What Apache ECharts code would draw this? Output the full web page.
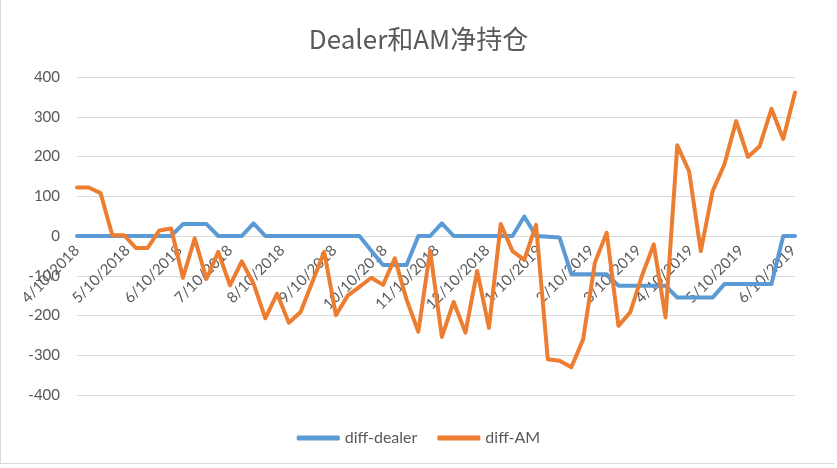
<!DOCTYPE html>
<html>
<head>
<meta charset="utf-8">
<script src="https://cdn.jsdelivr.net/npm/echarts@6/dist/echarts.min.js"></script>
<style>
html,body{margin:0;padding:0;background:#fff;}
#frame{position:absolute;left:0;top:0;width:833px;height:463px;border:1px solid #d9d9d9;border-top:none;border-right:none;}
#chart{position:absolute;left:0;top:0;width:837px;height:468px;}
</style>
</head>
<body>
<div id="frame"></div>
<div id="chart"></div>
<script>
const dates = [
 '2018-04-10','2018-04-17','2018-04-24','2018-05-01','2018-05-08','2018-05-15','2018-05-22','2018-05-29',
 '2018-06-05','2018-06-12','2018-06-19','2018-06-26','2018-07-03','2018-07-10','2018-07-17','2018-07-24',
 '2018-07-31','2018-08-07','2018-08-14','2018-08-21','2018-08-28','2018-09-04','2018-09-11','2018-09-18',
 '2018-09-25','2018-10-02','2018-10-09','2018-10-16','2018-10-23','2018-10-30','2018-11-06','2018-11-13',
 '2018-11-20','2018-11-27','2018-12-04','2018-12-11','2018-12-18','2018-12-25','2019-01-01','2019-01-08',
 '2019-01-15','2019-01-22','2019-01-29','2019-02-05','2019-02-12','2019-02-19','2019-02-26','2019-03-05',
 '2019-03-12','2019-03-19','2019-03-26','2019-04-02','2019-04-09','2019-04-16','2019-04-23','2019-04-30',
 '2019-05-07','2019-05-14','2019-05-21','2019-05-28','2019-06-04','2019-06-11'
];
const diffDealer = [
 0,0,0,0,0,0,0,0,
 0,30,30,30,0,0,0,32,
 0,0,0,0,0,0,0,0,
 0,-37,-73,-73,-73,0,0,32,
 0,0,0,0,0,0,49,0,
 -2,-4,-96,-96,-96,-96,-125,-125,
 -125,-125,-125,-155,-155,-155,-155,-121,
 -121,-121,-121,-121,0,0
];
const diffAM = [
 122,122,108,2,2,-30,-30,14,
 19,-105,-6,-108,-40,-124,-64,-120,
 -207,-145,-218,-191,-115,-40,-199,-150,
 -128,-105,-123,-56,-160,-241,-37,-254,
 -166,-243,-88,-231,30,-38,-60,28,
 -310,-314,-330,-260,-67,8,-226,-192,
 -100,-21,-205,228,163,-38,113,180,
 289,199,226,320,244,361
];
const xTickLabels = [
 '4/10/2018','5/10/2018','6/10/2018','7/10/2018','8/10/2018','9/10/2018','10/10/2018',
 '11/10/2018','12/10/2018','1/10/2019','2/10/2019','3/10/2019','4/10/2019','5/10/2019','6/10/2019'
];
const yTicks = { min: -400, max: 400, interval: 100 };

function parseLocal(s) {
  const p = s.split('-').map(Number);
  return new Date(p[0], p[1] - 1, p[2]).getTime();
}
function parseMDY(s) {
  const p = s.split('/').map(Number);
  return new Date(p[2], p[0] - 1, p[1]).getTime();
}
const times = dates.map(parseLocal);
const tickValues = xTickLabels.map(parseMDY);

const chart = echarts.init(document.getElementById('chart'), null, { renderer: 'canvas' });
const labelColor = '#595959';
const font = 'Lato, "Liberation Sans", sans-serif';
const gridTop = 77, gridBottom = 73, chartH = 468;
// place the category axis at value 0 (axis crosses at zero, as in the reference)
const plotH = chartH - gridTop - gridBottom;
const zeroOffset = -plotH * (0 - yTicks.min) / (yTicks.max - yTicks.min);

chart.setOption({
  animation: false,
  backgroundColor: 'transparent',
  title: {
    text: 'Dealer和AM净持仓',
    left: 'center',
    top: 21,
    textStyle: { fontFamily: '"Noto Sans CJK SC", sans-serif', fontSize: 26, fontWeight: 'normal', color: labelColor }
  },
  legend: {
    left: 'center',
    top: 425,
    itemWidth: 43,
    itemHeight: 5,
    itemGap: 20,
    icon: 'roundRect',
    textStyle: { fontFamily: font, fontSize: 16, color: labelColor },
    data: ['diff-dealer', 'diff-AM']
  },
  grid: { left: 77, right: 42, top: gridTop, bottom: gridBottom, containLabel: false, outerBoundsMode: 'none' },
  xAxis: {
    type: 'value',
    min: times[0],
    max: times[times.length - 1],
    offset: zeroOffset,
    axisLine: { show: true, onZero: false, lineStyle: { color: '#d9d9d9', width: 1 } },
    axisTick: { show: false, customValues: tickValues },
    splitLine: { show: false },
    axisLabel: {
      customValues: tickValues,
      rotate: 45,
      margin: 12,
      fontFamily: font,
      fontSize: 15,
      color: labelColor,
      showMinLabel: true,
      showMaxLabel: true,
      hideOverlap: false,
      formatter: function (v) {
        const d = new Date(v);
        return (d.getMonth() + 1) + '/' + d.getDate() + '/' + d.getFullYear();
      }
    }
  },
  yAxis: {
    type: 'value',
    min: yTicks.min,
    max: yTicks.max,
    interval: yTicks.interval,
    axisLine: { show: false },
    axisTick: { show: false },
    splitLine: { show: true, lineStyle: { color: '#d9d9d9', width: 1 } },
    axisLabel: { margin: 17, fontFamily: font, fontSize: 15, color: labelColor }
  },
  series: [
    {
      name: 'diff-dealer',
      type: 'line',
      data: times.map((t, i) => [t, diffDealer[i]]),
      symbol: 'none',
      color: '#5B9BD5',
      lineStyle: { width: 4, color: '#5B9BD5', cap: 'round', join: 'round' },
      z: 2
    },
    {
      name: 'diff-AM',
      type: 'line',
      data: times.map((t, i) => [t, diffAM[i]]),
      symbol: 'none',
      color: '#ED7D31',
      lineStyle: { width: 4, color: '#ED7D31', cap: 'round', join: 'round' },
      z: 3
    }
  ]
});
</script>
</body>
</html>
